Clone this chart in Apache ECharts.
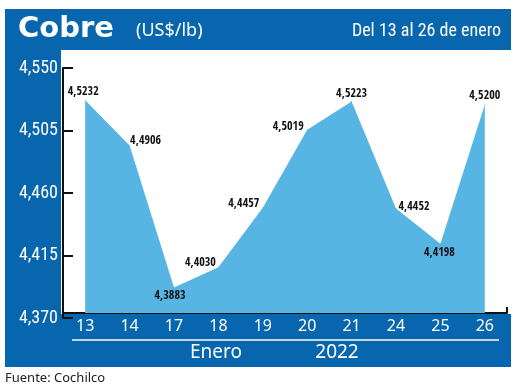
<!DOCTYPE html>
<html>
<head>
<meta charset="utf-8">
<script src="https://cdn.jsdelivr.net/npm/echarts@6/dist/echarts.min.js"></script>
<style>html,body{margin:0;padding:0;background:#fff}#c{width:520px;height:389px}</style>
</head>
<body>
<div id="c"></div>
<script>
// ---- data ----
const categories = ['13', '14', '17', '18', '19', '20', '21', '24', '25', '26'];
const prices = [4.5232, 4.4906, 4.3883, 4.4030, 4.4457, 4.5019, 4.5223, 4.4452, 4.4198, 4.5200];
const yTickLabels = ['4,370', '4,415', '4,460', '4,505', '4,550'];
const yMin = 4.37;
const yMax = 4.55;
const titleText = 'Cobre';
const unitText = '(US$/lb)';
const periodText = 'Del 13 al 26 de enero';
const monthText = 'Enero';
const yearText = '2022';
const sourceText = 'Fuente: Cochilco';

// ---- label placement (style) ----
const labelPlacement = [
  { position: 'top', distance: 2, offset: [-2, 0] },
  { position: 'right', distance: 0, offset: [0, -5] },
  { position: 'bottom', distance: 2, offset: [-4, 0] },
  { position: 'left', distance: 2, offset: [0, -4] },
  { position: 'left', distance: 3, offset: [0, -4] },
  { position: 'left', distance: 3, offset: [0, -3] },
  { position: 'top', distance: 1, offset: [0, 0] },
  { position: 'right', distance: 2, offset: [0, -2] },
  { position: 'bottom', distance: 3, offset: [-1, 0] },
  { position: 'top', distance: 2, offset: [0, 0] }
];

const BLUE = '#0866ae';
const AREA = '#57b5e4';
const fmt = v => v.toFixed(4).replace('.', ',');

const chart = echarts.init(document.getElementById('c'), null, { renderer: 'canvas' });
chart.setOption({
  animation: false,
  backgroundColor: '#fff',
  graphic: [
    { type: 'rect', z: -20, shape: { x: 5, y: 9, width: 506, height: 358 }, style: { fill: BLUE } },
    { type: 'rect', z: -19, shape: { x: 61, y: 50, width: 459, height: 264 }, style: { fill: '#fff' } },
    { type: 'line', z: 5, shape: { x1: 72, y1: 340, x2: 499, y2: 340 }, style: { stroke: '#fff', lineWidth: 1.5 } },
    { type: 'text', z: 5, x: 18, y: 29, style: { text: titleText, fill: '#fff', font: 'bold 29px "DejaVu Sans"', textVerticalAlign: 'middle' } },
    { type: 'text', z: 5, x: 136, y: 31, style: { text: unitText, fill: '#fff', font: '18px "Noto Sans"', textVerticalAlign: 'middle' } },
    { type: 'text', z: 5, x: 501, y: 31, style: { text: periodText, fill: '#fff', font: '18px "Roboto Condensed"', textAlign: 'right', textVerticalAlign: 'middle' } },
    { type: 'text', z: 5, x: 216, y: 353, style: { text: monthText, fill: '#fff', font: '19px "Noto Sans"', textAlign: 'center', textVerticalAlign: 'middle' } },
    { type: 'text', z: 5, x: 337, y: 353, style: { text: yearText, fill: '#fff', font: '19px "Noto Sans"', textAlign: 'center', textVerticalAlign: 'middle' } },
    { type: 'text', z: 5, x: 5, y: 378, style: { text: sourceText, fill: '#222', font: '13px "Noto Sans"', textVerticalAlign: 'middle' } }
  ],
  grid: [
    { left: 63, right: 13, top: 68, bottom: 71 },
    { left: 63, right: 13, top: 63, bottom: 76 },
    { left: 63, right: 13, top: 63, bottom: 76 }
  ],
  xAxis: [
    { gridIndex: 0, type: 'category', data: categories, show: false },
    {
      gridIndex: 1, type: 'category', data: categories, boundaryGap: true,
      axisLine: { show: true, lineStyle: { color: '#111', width: 2 } },
      axisTick: { show: false },
      axisLabel: { color: '#fff', fontSize: 16, fontFamily: 'Noto Sans', margin: 5 }
    },
    {
      gridIndex: 2, type: 'value', min: 0, max: 1, interval: 1,
      axisLine: { show: false },
      axisTick: { show: true, inside: true, length: 6, lineStyle: { color: '#111', width: 2 } },
      axisLabel: { show: false }, splitLine: { show: false }
    }
  ],
  yAxis: [
    {
      gridIndex: 0, type: 'value', min: 0, max: yTickLabels.length - 1, interval: 1,
      axisLine: { show: true, lineStyle: { color: '#111', width: 2 } },
      axisTick: { show: true, inside: true, length: 10, lineStyle: { color: '#111', width: 2 } },
      splitLine: { show: false },
      axisLabel: { color: '#fff', fontSize: 18, fontFamily: 'Roboto Condensed', margin: 5, formatter: v => yTickLabels[v] }
    },
    { gridIndex: 1, type: 'value', min: yMin, max: yMax, show: false, splitLine: { show: false } },
    { gridIndex: 2, type: 'value', min: 0, max: 1, show: false, splitLine: { show: false } }
  ],
  series: [{
    type: 'line',
    xAxisIndex: 1, yAxisIndex: 1,
    data: prices.map((v, i) => ({ value: v, label: labelPlacement[i] })),
    symbol: 'circle', symbolSize: 1,
    itemStyle: { color: AREA },
    lineStyle: { width: 0 },
    areaStyle: { color: AREA, opacity: 1 },
    z: 2,
    label: {
      show: true, color: '#111', fontSize: 12, fontWeight: 'bold',
      fontFamily: '"Open Sans Condensed", "Roboto Condensed", sans-serif',
      formatter: p => fmt(p.value)
    }
  }]
});
</script>
</body>
</html>
